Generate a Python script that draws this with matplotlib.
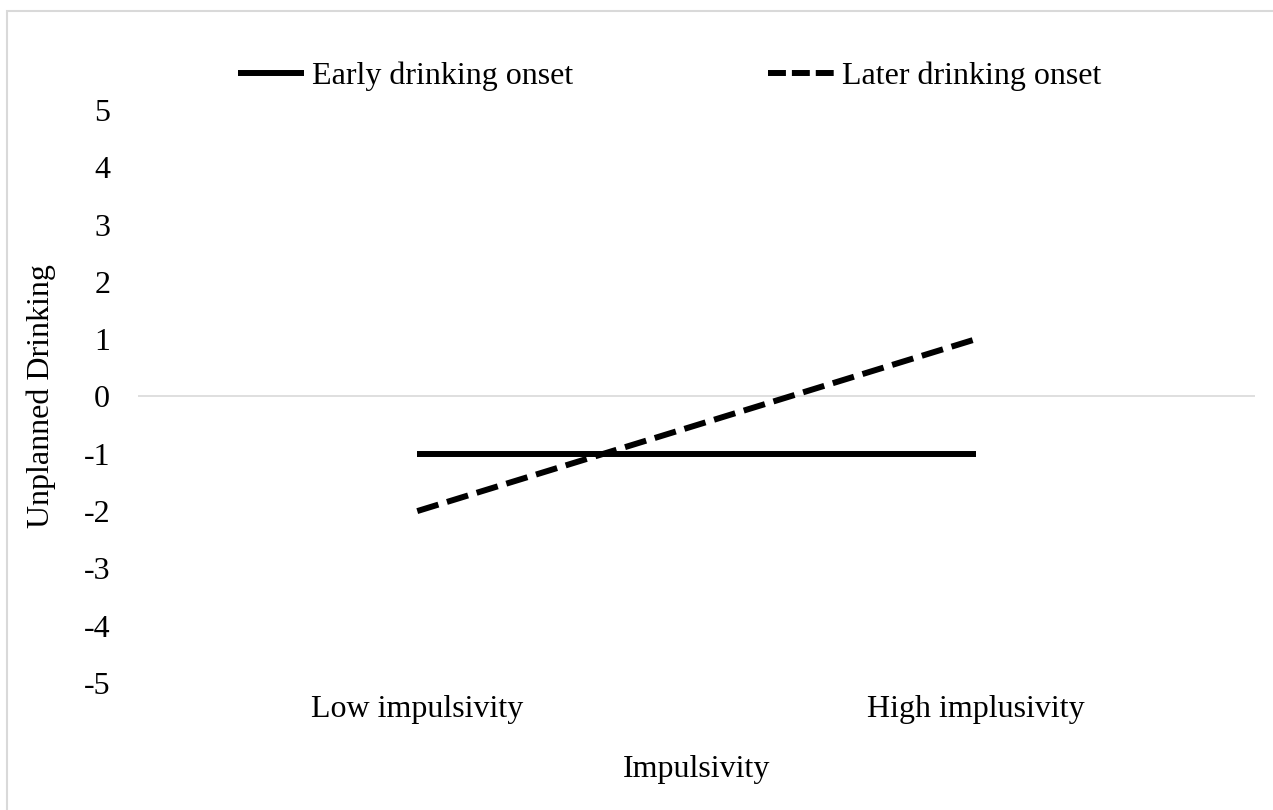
import numpy as np
import matplotlib
matplotlib.use('Agg')
import matplotlib.pyplot as plt
from matplotlib.patches import Rectangle

plt.rcParams['font.family'] = ['Liberation Serif', 'DejaVu Serif']

# Data
categories = ['Low impulsivity', 'High implusivity']
early_onset = [-1, -1]
later_onset = [-2, 1]
y_ticks = [5, 4, 3, 2, 1, 0, -1, -2, -3, -4, -5]

fs = 23
fig = plt.figure(figsize=(12.73, 8.10), dpi=100)
ax = fig.add_axes([0.1084, 0.1568, 0.8775, 0.7074])

x = np.arange(len(categories))

# Zero line
ax.axhline(0, color='#d9d9d9', lw=1.2, zorder=1)

# Series
ax.plot(x, early_onset, color='black', lw=4.3, solid_capstyle='butt',
        label='Early drinking onset', zorder=3)
ax.plot(x, later_onset, color='black', lw=4.3, dashes=(3.7, 1.5),
        dash_capstyle='butt', label='Later drinking onset', zorder=3)

ax.set_xlim(-0.5, 1.5)
ax.set_ylim(-5, 5)
ax.set_xticks(x)
ax.set_xticklabels(categories, fontsize=fs)
ax.set_yticks(y_ticks)
ax.set_yticklabels([str(v) for v in y_ticks], fontsize=fs)
ax.tick_params(axis='both', length=0)
ax.tick_params(axis='y', pad=20)
ax.tick_params(axis='x', pad=9)

for s in ax.spines.values():
    s.set_visible(False)

ax.set_xlabel('Impulsivity', fontsize=fs, labelpad=22)
ax.set_ylabel('Unplanned Drinking', fontsize=fs, labelpad=20)

leg = fig.legend(loc='center', bbox_to_anchor=(0.526, 0.906), ncol=2,
                 frameon=False, fontsize=fs, handlelength=2.07,
                 handletextpad=0.25, columnspacing=6.1, borderaxespad=0)
leg.get_lines()[1].set_dashes((3.0, 1.0))

# Light grey chart border (Excel style)
fig.patches.append(Rectangle((7 / 1273, -0.05), 1.1, 1 - 11 / 810 + 0.05,
                             transform=fig.transFigure, fill=False,
                             edgecolor='#d9d9d9', lw=1.5))

fig.savefig('out.png', dpi=100)
